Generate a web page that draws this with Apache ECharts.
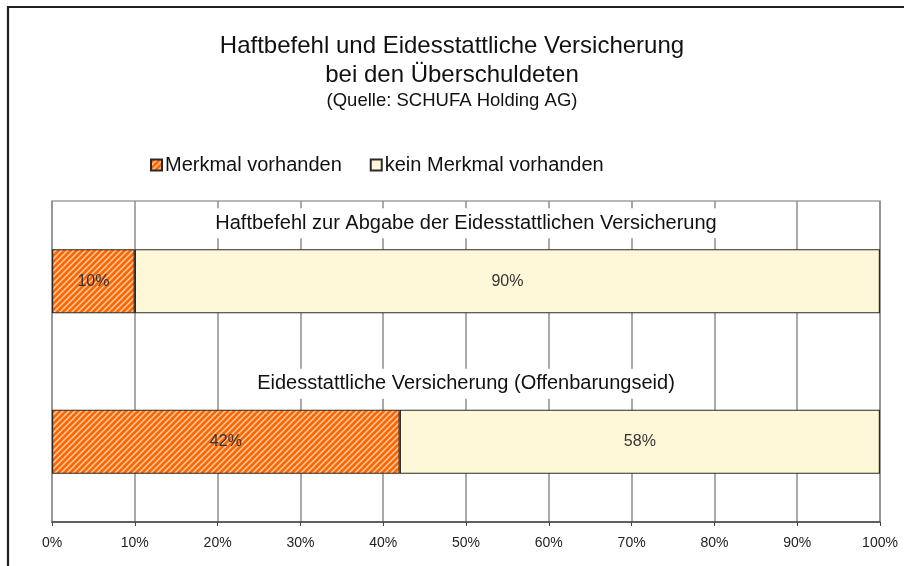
<!DOCTYPE html>
<html>
<head>
<meta charset="utf-8">
<script src="https://cdn.jsdelivr.net/npm/echarts@6/dist/echarts.min.js"></script>
<style>
  html, body { margin: 0; padding: 0; background: #fff; }
  #chart { width: 904px; height: 566px; }
</style>
</head>
<body>
<div id="chart"></div>
<script>
// Categories (top to bottom) and the share of each answer in percent
const categories = [
  'Haftbefehl zur Abgabe der Eidesstattlichen Versicherung',
  'Eidesstattliche Versicherung (Offenbarungseid)'
];
const seriesNames = ['Merkmal vorhanden', 'kein Merkmal vorhanden'];
const merkmalVorhanden = [10, 42];
const keinMerkmal = [90, 58];
const xTicks = [0, 10, 20, 30, 40, 50, 60, 70, 80, 90, 100];

// Orange fill with light diagonal hatching
function hatchPattern() {
  const s = 6;
  const c = document.createElement('canvas');
  c.width = s; c.height = s;
  const g = c.getContext('2d');
  g.fillStyle = '#ff6600';
  g.fillRect(0, 0, s, s);
  g.strokeStyle = '#ffcfa8';
  g.lineWidth = 1.5;
  g.beginPath();
  g.moveTo(-1, s + 1); g.lineTo(s + 1, -1);
  g.moveTo(-1, 1); g.lineTo(1, -1);
  g.moveTo(s - 1, s + 1); g.lineTo(s + 1, s - 1);
  g.stroke();
  return c;
}

const chart = echarts.init(document.getElementById('chart'), null, { renderer: 'canvas' });
const font = '"Liberation Sans", Arial, sans-serif';

chart.setOption({
  animation: false,
  backgroundColor: '#fff',
  textStyle: { fontFamily: font },
  title: {
    text: 'Haftbefehl und Eidesstattliche Versicherung\nbei den Überschuldeten',
    subtext: '(Quelle: SCHUFA Holding AG)',
    left: 'center',
    top: 27,
    itemGap: 1,
    textStyle: { fontFamily: font, fontSize: 24, fontWeight: 'normal', color: '#111', lineHeight: 29 },
    subtextStyle: { fontFamily: font, fontSize: 18.5, color: '#111' }
  },
  legend: {
    data: seriesNames,
    left: 145,
    top: 150,
    icon: 'rect',
    itemWidth: 11,
    itemHeight: 11,
    itemGap: 28,
    textStyle: { fontFamily: font, fontSize: 20, color: '#111', padding: [0, 0, 0, -2] }
  },
  grid: {
    left: 52, right: 24, top: 201, bottom: 44,
    show: true, borderColor: '#a0a0a0', borderWidth: 1.5,
    containLabel: false
  },
  xAxis: {
    type: 'value',
    min: 0, max: 100, interval: 10,
    axisLine: { show: true, lineStyle: { color: '#444', width: 1.5 } },
    axisTick: { show: true, length: 4, lineStyle: { color: '#444' } },
    splitLine: { show: true, lineStyle: { color: '#8c8c8c', width: 1.5 } },
    axisLabel: {
      fontFamily: font, fontSize: 14, color: '#222', margin: 14,
      formatter: v => xTicks.includes(v) ? v + '%' : ''
    }
  },
  yAxis: {
    type: 'category',
    data: categories,
    inverse: true,
    axisLine: { show: false },
    axisTick: { show: false },
    axisLabel: { show: false },
    splitLine: { show: false }
  },
  series: [
    {
      name: seriesNames[0],
      type: 'bar',
      stack: 'total',
      data: merkmalVorhanden,
      barCategoryGap: '60%',
      itemStyle: { color: { image: hatchPattern(), repeat: 'repeat' }, borderColor: '#2a2a2a', borderWidth: 1.2 },
      label: { show: true, position: 'inside', formatter: p => p.value + '%', fontFamily: font, fontSize: 16, color: '#333' }
    },
    {
      name: seriesNames[1],
      type: 'bar',
      stack: 'total',
      data: keinMerkmal,
      barCategoryGap: '60%',
      itemStyle: { color: '#fff8d8', borderColor: '#2a2a2a', borderWidth: 1.2 },
      label: { show: true, position: 'inside', formatter: p => p.value + '%', fontFamily: font, fontSize: 16, color: '#333' }
    },
    {
      // category captions above each bar, on a white box over the grid lines
      name: 'captions',
      type: 'scatter',
      symbolSize: 0,
      silent: true,
      itemStyle: { opacity: 1 },
      data: categories.map(c => [50, c]),
      label: {
        show: true, position: 'inside', offset: [0, -58],
        formatter: p => p.value[1],
        fontFamily: font, fontSize: 20, color: '#111',
        backgroundColor: '#fff', padding: [5, 6]
      },
      z: 5
    }
  ],
  graphic: [
    {
      type: 'rect',
      shape: { x: 8, y: 7, width: 1200, height: 1200 },
      style: { fill: 'none', stroke: '#231f20', lineWidth: 2.2 },
      silent: true
    }
  ]
});
</script>
</body>
</html>
